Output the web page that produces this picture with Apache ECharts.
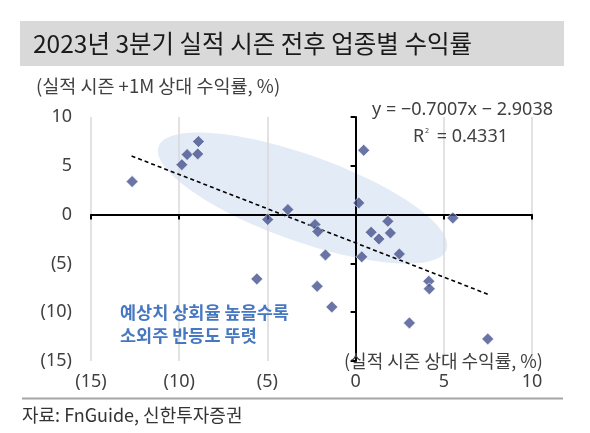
<!DOCTYPE html>
<html><head><meta charset="utf-8">
<script src="https://cdn.jsdelivr.net/npm/echarts@6/dist/echarts.min.js"></script>
<style>html,body{margin:0;padding:0;background:#fff}#c{width:590px;height:433px}</style>
</head><body><div id="c"></div>
<script>
const titleText = '2023년 3분기 실적 시즌 전후 업종별 수익률';
const yAxisTitle = '(실적 시즌 +1M 상대 수익률, %)';
const xAxisTitle = '(실적 시즌 상대 수익률, %)';
const sourceText = '자료: FnGuide, 신한투자증권';
const equationText = 'y = −0.7007x − 2.9038';
const r2Label = '= 0.4331';
const noteLines = ['예상치 상회율 높을수록', '소외주 반등도 뚜렷'];

// sector returns: x = earnings-season relative return, y = +1M relative return
const xValues = [-12.67, -9.85, -9.55, -8.95, -8.91, -4.98, -3.84, -2.30, -2.14, 0.18, 0.46, -1.71, 0.35,
                 0.88, 1.32, 1.83, 1.97, 2.48, 5.51, -5.60, -2.18, -1.35, 4.15, 4.18, 3.05, 7.49];
const yValues = [3.38, 5.12, 6.15, 6.22, 7.48, -0.51, 0.51, -1.02, -1.74, 1.20, 6.59, -4.13, -4.33,
                 -1.81, -2.49, -0.69, -1.88, -4.03, -0.34, -6.59, -7.35, -9.46, -6.83, -7.61, -11.10, -12.74];
// trend line end points (as drawn)
const trendX = [-12.7, 7.5];
const trendY = [6.0, -8.16];
// highlighted cluster (ellipse centre)
const ellipseCenter = [-3.0, 1.7];

const axisMin = -15, axisMax = 10, axisStep = 5;
const fmt = v => v < 0 ? '(' + (-v) + ')' : String(v);

const chart = echarts.init(document.getElementById('c'));
const labelFont = { color: '#404040', fontSize: 18, fontFamily: 'Noto Sans, sans-serif' };

chart.setOption({
  animation: false,
  backgroundColor: '#fff',
  grid: { left: 91, right: 58, top: 117, bottom: 72, outerBoundsMode: 'none' },
  xAxis: [
    { type: 'value', min: axisMin, max: axisMax, interval: axisStep, position: 'bottom',
      axisLine: { show: false, onZero: false }, axisTick: { show: false },
      axisLabel: Object.assign({ formatter: fmt, margin: 12 }, labelFont),
      splitLine: { show: true, lineStyle: { color: '#d9d9d9', width: 1.5 } } },
    { type: 'value', min: axisMin, max: axisMax, interval: axisStep, position: 'bottom',
      axisLine: { show: true, onZero: true, lineStyle: { color: '#000', width: 2 } },
      axisTick: { show: true, length: 5, lineStyle: { color: '#000', width: 2 } },
      axisLabel: { show: false }, splitLine: { show: false } }
  ],
  yAxis: [
    { type: 'value', min: axisMin, max: axisMax, interval: axisStep, position: 'left',
      axisLine: { show: false, onZero: false }, axisTick: { show: false },
      axisLabel: Object.assign({ formatter: fmt, margin: 19 }, labelFont),
      splitLine: { show: false } },
    { type: 'value', min: axisMin, max: axisMax, interval: axisStep, position: 'left',
      axisLine: { show: true, onZero: true, lineStyle: { color: '#000', width: 2 } },
      axisTick: { show: true, length: 5, lineStyle: { color: '#000', width: 2 } },
      axisLabel: { show: false }, splitLine: { show: false } }
  ],
  series: [
    { type: 'custom', xAxisIndex: 0, yAxisIndex: 0, z: -1, silent: true,
      data: [ellipseCenter],
      renderItem: function (params, api) {
        const p = api.coord([api.value(0), api.value(1)]);
        return { type: 'ellipse', x: p[0], y: p[1], rotation: -0.344,
          shape: { cx: 0, cy: 0, rx: 153, ry: 43 },
          style: { fill: '#e3ebf6' } };
      } },
    { type: 'line', xAxisIndex: 0, yAxisIndex: 0, z: 3,
      data: trendX.map((x, i) => [x, trendY[i]]), symbol: 'none',
      lineStyle: { color: '#000', width: 1.6, type: [4, 3] } },
    { type: 'scatter', xAxisIndex: 0, yAxisIndex: 0, z: 4,
      data: xValues.map((x, i) => [x, yValues[i]]),
      symbol: 'diamond', symbolSize: 12,
      itemStyle: { color: '#46528f', borderColor: '#fff', borderWidth: 0.8 } }
  ],
  graphic: [
    { type: 'rect', shape: { x: 20, y: 21, width: 544, height: 45 }, style: { fill: '#d9d9d9' }, z: 10 },
    { type: 'text', x: 33, y: 44, z: 11, style: { text: titleText, fill: '#1a1a1a', fontSize: 24.5,
      fontFamily: 'Noto Sans CJK KR', verticalAlign: 'middle' } },
    { type: 'text', x: 36, y: 86, z: 11, style: { text: yAxisTitle, fill: '#404040', fontSize: 18.5,
      fontFamily: 'Noto Sans CJK KR', verticalAlign: 'middle' } },
    { type: 'text', x: 344, y: 361, z: 11, style: { text: xAxisTitle, fill: '#404040', fontSize: 18,
      fontFamily: 'Noto Sans CJK KR', verticalAlign: 'middle' } },
    { type: 'text', x: 553, y: 110, z: 11, style: { text: equationText, fill: '#404040', fontSize: 18,
      fontFamily: 'Noto Sans', align: 'right', verticalAlign: 'middle' } },
    { type: 'text', x: 413, y: 137, z: 11, style: { text: 'R', fill: '#404040', fontSize: 18,
      fontFamily: 'Noto Sans', verticalAlign: 'middle' } },
    { type: 'text', x: 425, y: 131, z: 11, style: { text: '2', fill: '#404040', fontSize: 7,
      fontFamily: 'Noto Sans', verticalAlign: 'middle' } },
    { type: 'text', x: 508, y: 137, z: 11, style: { text: r2Label, fill: '#404040', fontSize: 18,
      fontFamily: 'Noto Sans', align: 'right', verticalAlign: 'middle' } },
    { type: 'text', x: 120, y: 312, z: 11, style: { text: noteLines[0], fill: '#4677c1', fontSize: 17.5,
      fontWeight: 'bold', fontFamily: 'Noto Sans CJK KR', verticalAlign: 'middle' } },
    { type: 'text', x: 120, y: 335, z: 11, style: { text: noteLines[1], fill: '#4677c1', fontSize: 17.5,
      fontWeight: 'bold', fontFamily: 'Noto Sans CJK KR', verticalAlign: 'middle' } },
    { type: 'line', shape: { x1: 22, y1: 398.5, x2: 563, y2: 398.5 }, style: { stroke: '#a6a6a6', lineWidth: 2 }, z: 10 },
    { type: 'text', x: 22, y: 415, z: 11, style: { text: sourceText, fill: '#333', fontSize: 18,
      fontFamily: 'Noto Sans CJK KR', verticalAlign: 'middle' } }
  ]
});
</script></body></html>
